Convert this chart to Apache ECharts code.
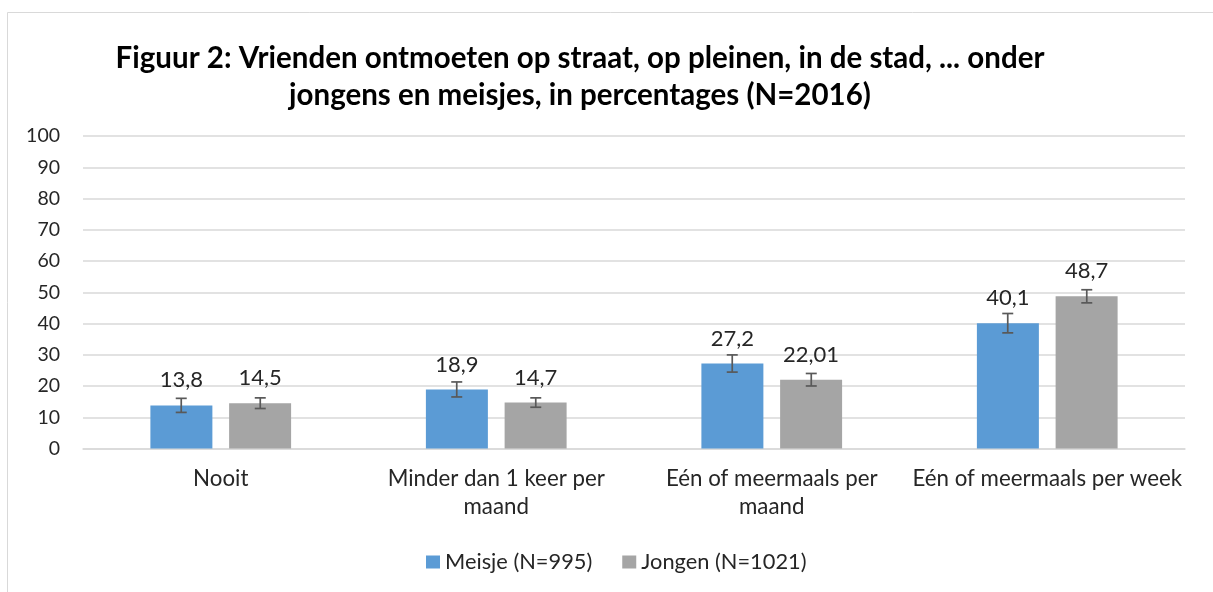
<!DOCTYPE html>
<html>
<head>
<meta charset="utf-8">
<script src="https://cdn.jsdelivr.net/npm/echarts@6/dist/echarts.min.js"></script>
<style>
html,body{margin:0;padding:0;background:#fff;}
#chart{width:1213px;height:592px;}
</style>
</head>
<body>
<div id="chart"></div>
<script>
const categories = ['Nooit', 'Minder dan 1 keer per\nmaand', 'Eén of meermaals per\nmaand', 'Eén of meermaals per week'];
const meisjeValues = [13.8, 18.9, 27.2, 40.1];
const jongenValues = [14.5, 14.7, 22.01, 48.7];
const meisjeErr = [2.25, 2.4, 2.75, 3.1];
const jongenErr = [1.7, 1.5, 2.0, 2.1];
const yTicks = [0, 10, 20, 30, 40, 50, 60, 70, 80, 90, 100];

const FONT = 'Lato, "Open Sans", sans-serif';
const TXT = '#262626';

function errData(vals, errs) {
  return vals.map((v, i) => [i, v - errs[i], v + errs[i]]);
}
function errSeries(name, vals, errs, side) {
  return {
    type: 'custom',
    name: name + '_err',
    z: 10,
    silent: true,
    encode: { x: 0, y: [1, 2] },
    data: errData(vals, errs),
    renderItem: function (params, api) {
      const lo = api.coord([api.value(0), api.value(1)]);
      const hi = api.coord([api.value(0), api.value(2)]);
      const band = api.size([1, 0])[0];
      const x = lo[0] + side * band * 0.1434;
      const cap = 5.5;
      const style = { stroke: '#595959', lineWidth: 1.7 };
      return {
        type: 'group',
        children: [
          { type: 'line', shape: { x1: x, y1: lo[1], x2: x, y2: hi[1] }, style: style },
          { type: 'line', shape: { x1: x - cap, y1: lo[1], x2: x + cap, y2: lo[1] }, style: style },
          { type: 'line', shape: { x1: x - cap, y1: hi[1], x2: x + cap, y2: hi[1] }, style: style }
        ]
      };
    }
  };
}

const labelCfg = {
  show: true,
  position: 'top',
  distance: 14,
  fontFamily: FONT,
  fontSize: 22,
  color: TXT,
  formatter: p => String(p.value).replace('.', ',')
};

const chart = echarts.init(document.getElementById('chart'), null, { renderer: 'canvas' });
chart.setOption({
  backgroundColor: '#fff',
  animation: false,
  graphic: [{
    type: 'rect',
    shape: { x: 7.5, y: 12.5, width: 1213, height: 600 },
    style: { fill: 'none', stroke: '#d9d9d9', lineWidth: 1 },
    silent: true
  }],
  title: {
    text: 'Figuur 2: Vrienden ontmoeten op straat, op pleinen, in de stad, ... onder\njongens en meisjes, in percentages (N=2016)',
    left: 575,
    textAlign: 'center',
    top: 35,
    textStyle: { fontFamily: FONT, fontSize: 29.5, fontWeight: 'bold', color: '#000', lineHeight: 37 }
  },
  legend: {
    data: ['Meisje (N=995)', 'Jongen (N=1021)'],
    left: 421,
    top: 546,
    itemWidth: 14,
    itemHeight: 13,
    itemGap: 30,
    icon: 'rect',
    textStyle: { fontFamily: FONT, fontSize: 21.8, color: TXT }
  },
  grid: { left: 83, right: 28, top: 136, bottom: 143.5, containLabel: false },
  xAxis: {
    type: 'category',
    data: categories,
    axisLine: { show: true, lineStyle: { color: '#d9d9d9', width: 1.5 } },
    axisTick: { show: false },
    axisLabel: { fontFamily: FONT, fontSize: 22.3, color: TXT, margin: 16, lineHeight: 28, interval: 0 }
  },
  yAxis: {
    type: 'value',
    min: yTicks[0],
    max: yTicks[yTicks.length - 1],
    interval: 10,
    axisLine: { show: false },
    axisTick: { show: false },
    splitLine: { lineStyle: { color: '#d9d9d9', width: 1.5 } },
    axisLabel: { fontFamily: FONT, fontSize: 19.5, color: TXT, margin: 23 }
  },
  series: [
    {
      name: 'Meisje (N=995)',
      type: 'bar',
      data: meisjeValues,
      barWidth: '22.5%',
      barGap: '27%',
      itemStyle: { color: '#5B9BD5' },
      label: labelCfg
    },
    {
      name: 'Jongen (N=1021)',
      type: 'bar',
      data: jongenValues,
      barWidth: '22.5%',
      barGap: '27%',
      itemStyle: { color: '#A5A5A5' },
      label: labelCfg
    },
    errSeries('Meisje', meisjeValues, meisjeErr, -1),
    errSeries('Jongen', jongenValues, jongenErr, 1)
  ]
});
</script>
</body>
</html>
